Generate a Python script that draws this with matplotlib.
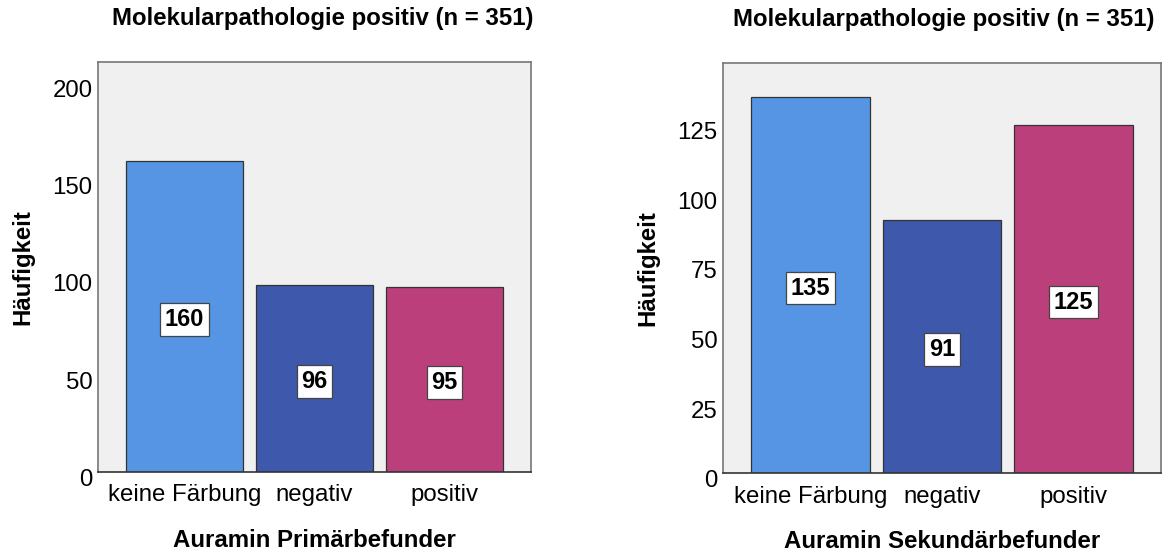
import matplotlib
matplotlib.use("Agg")
import matplotlib.pyplot as plt
import matplotlib.transforms as mtransforms

plt.rcParams['font.family'] = ['Liberation Sans', 'DejaVu Sans']

categories = ["keine Färbung", "negativ", "positiv"]
primaer = [160, 96, 95]
sekundaer = [135, 91, 125]
colors = ["#5595E4", "#3E58AC", "#BB3F7B"]
title = "Molekularpathologie positiv (n = 351)"
xlabels = ["Auramin Primärbefunder", "Auramin Sekundärbefunder"]
ylabel = "Häufigkeit"
yticks_left = [0, 50, 100, 150, 200]
yticks_right = [0, 25, 50, 75, 100, 125]

W, H = 1162, 553
fig = plt.figure(figsize=(W / 100, H / 100), dpi=100)

def make_ax(x0, x1, y0, y1):
    return fig.add_axes([x0 / W, 1 - y1 / H, (x1 - x0) / W, (y1 - y0) / H])

ax1 = make_ax(98, 531, 62, 472)
ax2 = make_ax(723, 1161, 63, 473)

FS = 17.3

def draw(ax, vals, ylim, yticks, xlabel, title_x):
    ax.set_facecolor("#F0F0F0")
    x = list(range(len(categories)))
    ax.bar(x, vals, width=0.9, color=colors, edgecolor="#333333", linewidth=0.9, zorder=2)
    ax.set_xlim(-0.665, 2.665)
    ax.set_ylim(0, ylim)
    ax.set_yticks(yticks)
    ax.set_xticks(x)
    ax.set_xticklabels(categories, fontsize=FS)
    ax.tick_params(axis='both', length=0, labelsize=FS, colors="#000000")
    ax.tick_params(axis='x', pad=9)
    ax.tick_params(axis='y', pad=4)
    down = mtransforms.ScaledTranslation(0, -3 / 100, fig.dpi_scale_trans)
    for xi, v in zip(x, vals):
        ax.text(xi, v / 2, str(v), ha='center', va='center', fontsize=17,
                fontweight='bold', zorder=3, transform=ax.transData + down,
                bbox=dict(boxstyle='square,pad=0.2', facecolor='white',
                          edgecolor='#444444', linewidth=0.9))
    for s in ['top', 'right', 'left']:
        ax.spines[s].set_color('#777777')
        ax.spines[s].set_linewidth(1.2)
    ax.spines['bottom'].set_color('#333333')
    ax.spines['bottom'].set_linewidth(1.2)
    ax.set_xlabel(xlabel, fontsize=FS, fontweight='bold', labelpad=16)
    ax.set_ylabel(ylabel, fontsize=FS, fontweight='bold', labelpad=13)
    ax.set_title(title, fontsize=FS, fontweight='bold', pad=27, x=title_x)
    off = mtransforms.ScaledTranslation(0, -4 / 72, fig.dpi_scale_trans)
    for lab in ax.get_yticklabels():
        lab.set_transform(lab.get_transform() + off)

draw(ax1, primaer, 210.7, yticks_left, xlabels[0], 0.52)
draw(ax2, sekundaer, 147.4, yticks_right, xlabels[1], 0.505)

fig.savefig("out.png", dpi=100)
